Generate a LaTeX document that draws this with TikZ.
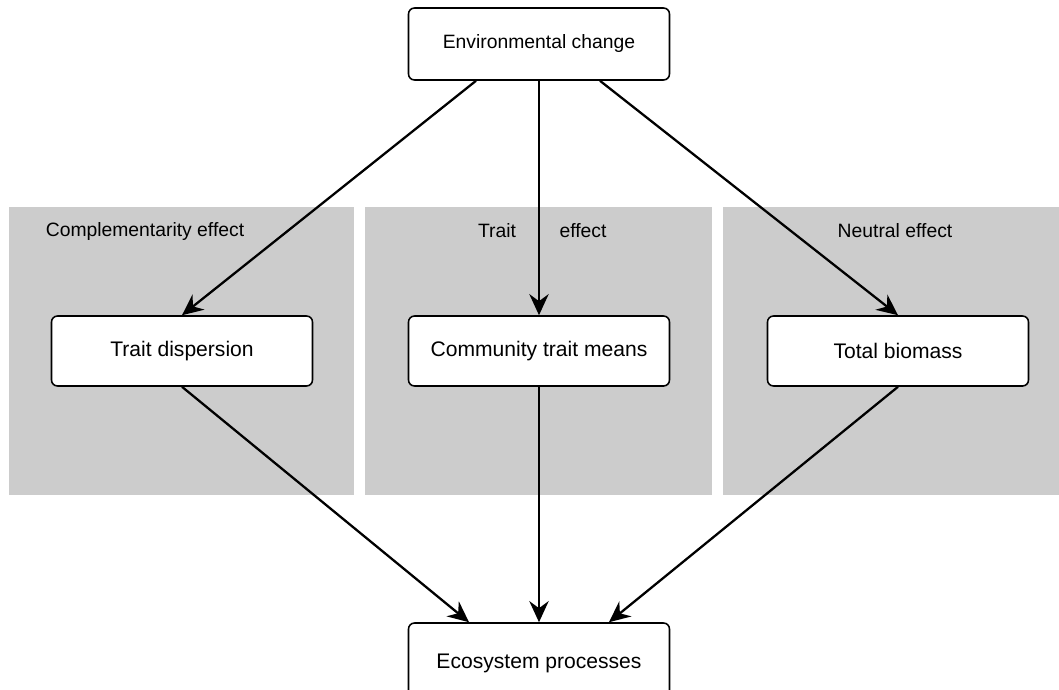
\documentclass[tikz,border=0pt]{standalone}
\usepackage{fontspec}
\setmainfont{Liberation Sans}
\usetikzlibrary{arrows.meta}

\begin{document}
\begin{tikzpicture}[x=0.02cm,y=-0.02cm,
		box/.style={draw,fill=white,rounded corners=0.12cm,line width=0.9pt,minimum width=5.22cm,minimum height=1.4cm,inner sep=0pt,font=\fontsize{12}{14}\selectfont},
		panel/.style={fill=black!20},
		tag/.style={font=\fontsize{11}{13}\selectfont},
		link/.style={line width=1.3pt,-{Stealth[length=12pt,width=11pt,inset=4pt]}}]
				\useasboundingbox (0,0) rectangle (1059,690);
				\fill[panel] (9,207) rectangle (354,495);
				\fill[panel] (365,207) rectangle (712,495);
				\fill[panel] (723,207) rectangle (1059,495);
				\node[tag] (CE) at (145,231) {Complementarity effect};
				\node[tag] (TE) at (497,231) {Trait};
				\node[tag] (TF) at (583,231) {effect};
				\node[tag] (NE) at (895,231) {Neutral effect};
				\node[box,minimum height=1.44cm,font=\fontsize{11}{13}\selectfont] (EC) at (539,44) {Environmental change};
				\node[box] (TD) at (182,351) {Trait dispersion};
				\node[box] (CTM) at (539,351) {Community trait means};
				\node[box] (TB) at (898,351) {Total biomass};
				\node[box,minimum height=1.6cm] (EP) at (539,663) {Ecosystem processes};
				\draw[link] ([xshift=-1.26cm]EC.south) -- (TD.north);
				\draw[link] (EC.south) -- (CTM.north);
				\draw[link] ([xshift=1.22cm]EC.south) -- (TB.north);
				\draw[link] (TD.south) -- ([xshift=-1.4cm]EP.north);
				\draw[link] (CTM.south) -- (EP.north);
				\draw[link] (TB.south) -- ([xshift=1.4cm]EP.north);
			\end{tikzpicture}
\end{document}
